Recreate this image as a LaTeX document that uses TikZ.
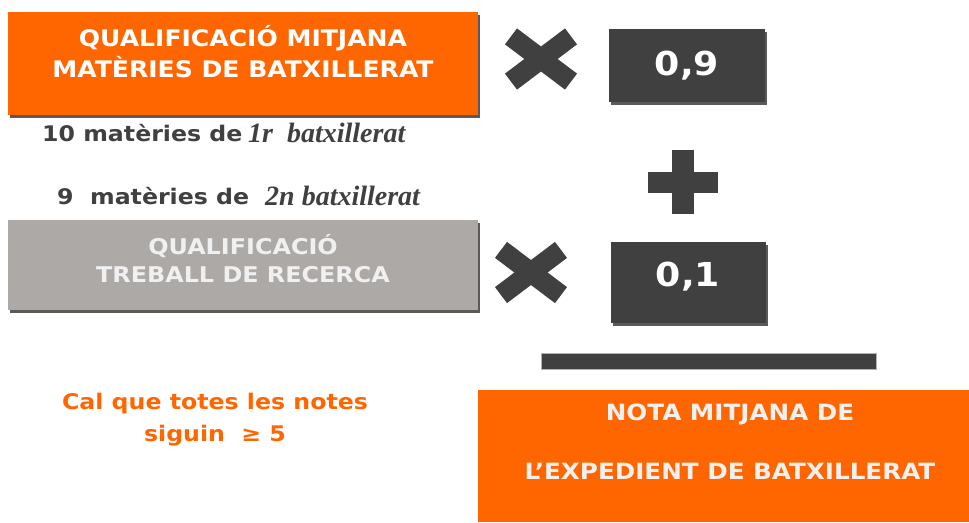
\documentclass[tikz,border=0pt]{standalone}
\usepackage{fontspec}
\setmainfont[FakeStretch=1.1]{DejaVu Sans}
\newfontfamily\brush{Liberation Serif}
\definecolor{orng}{HTML}{FF6600}
\definecolor{darkg}{HTML}{404040}
\definecolor{shad}{HTML}{5A5A5A}
\definecolor{greybox}{HTML}{ADA9A7}
\definecolor{lighttxt}{HTML}{F0F0F0}
\tikzset{
  box/.style={rectangle, inner sep=0pt, draw=none},
  boxtext/.style={align=center, text=white, font=\bfseries\fontsize{22.8}{31}\selectfont, inner sep=0pt},
  numtext/.style={text=white, font=\bfseries\fontsize{33}{33}\selectfont, inner sep=0pt},
  plaintext/.style={text=darkg, font=\bfseries\fontsize{21.5}{24}\selectfont, inner sep=0pt, anchor=west},
  scripttext/.style={text=darkg, font=\brush\bfseries\itshape\fontsize{28}{28}\selectfont, inner sep=0pt, anchor=west},
  xmark/.style={line width=20pt, draw=darkg, line cap=butt},
}
\begin{document}
\begin{tikzpicture}[x=1pt,y=-1pt]
\useasboundingbox[fill=white] (0,0) rectangle (969,522);
% box 1
\fill[shad] (10,15) rectangle (480,118);
\node[box, fill=orng, minimum width=470pt, minimum height=103pt] (b1) at (243,63.5) {};
\node[boxtext] (t1) at (243,51.5) {QUALIFICACIÓ MITJANA\\MATÈRIES DE BATXILLERAT};
% subject lines
\node[plaintext] (l1) at (42,133) {10 matèries de};
\node[scripttext] (s1) at (248,133) {1r\ \ batxillerat};
\node[plaintext] (l2) at (57,196) {9\ \ matèries de};
\node[scripttext] (s2) at (265,196) {2n batxillerat};
% box 2
\fill[shad] (10,223) rectangle (480,313);
\node[box, fill=greybox, minimum width=470pt, minimum height=90pt] (b2) at (243,265) {};
\node[boxtext, text=lighttxt, font=\bfseries\fontsize{21.7}{28}\selectfont] (t2) at (243,259) {QUALIFICACIÓ\\TREBALL DE RECERCA};
% times marks
\draw[xmark, shift={(541,59)}] (-30,-22.6) -- (30,22.6);
\draw[xmark, shift={(541,59)}] (-30,22.6) -- (30,-22.6);
\draw[xmark, shift={(531,272.5)}] (-30,-22.6) -- (30,22.6);
\draw[xmark, shift={(531,272.5)}] (-30,22.6) -- (30,-22.6);
% plus
\fill[darkg] (648,172) rectangle (718,193);
\fill[darkg] (672,150) rectangle (694,214);
% number boxes
\fill[shad] (611,32) rectangle (767,105);
\node[box, fill=darkg, minimum width=156pt, minimum height=73pt] (n1) at (687,65.5) {};
\node[numtext] (n1t) at (687,65.5) {0,9};
\fill[shad] (613,245) rectangle (768,326);
\node[box, fill=darkg, minimum width=155pt, minimum height=81pt] (n2) at (688.5,282.5) {};
\node[numtext] (n2t) at (688,276.5) {0,1};
% bar
\node[box, fill=darkg, draw=gray!60, line width=0.6pt, minimum width=335pt, minimum height=16pt] (bar) at (708.5,361) {};
% result box
\node[box, fill=orng, minimum width=491pt, minimum height=132pt] (res) at (723.5,456) {};
\node[boxtext, text=lighttxt, font=\bfseries\fontsize{22.4}{31}\selectfont] (r1) at (730,414) {NOTA MITJANA DE};
\node[boxtext, text=lighttxt, font=\bfseries\fontsize{22.4}{31}\selectfont] (r2) at (730,471) {L’EXPEDIENT DE BATXILLERAT};
% note
\node[align=center, text=orng, font=\bfseries\fontsize{21.5}{32}\selectfont, inner sep=0pt] (note) at (215,420) {Cal que totes les notes\\siguin\ \ ≥ 5};
\end{tikzpicture}
\end{document}
